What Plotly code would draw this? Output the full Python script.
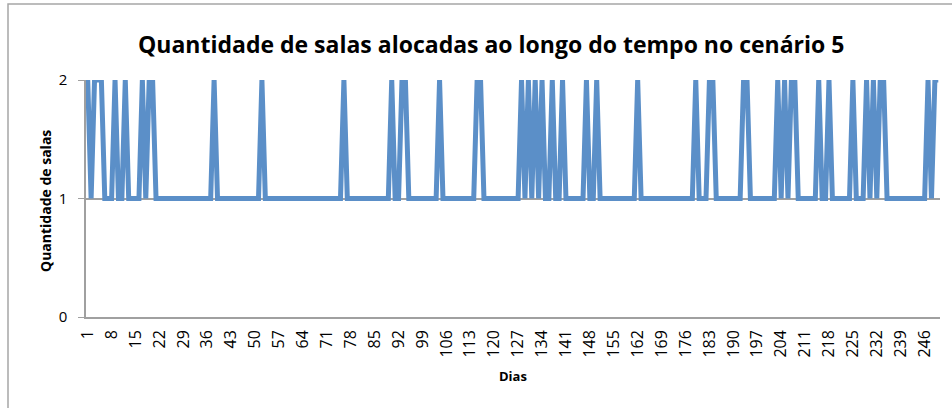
import plotly.graph_objects as go

# Days 1..250 and allocated rooms per day
dias = list(range(1, 251))
salas = [
    2,1,2,2,2,1,1,1,2,1,1,2,1,1,1,1,2,1,2,2,1,1,1,1,1,   # 1-25
    1,1,1,1,1,1,1,1,1,1,1,1,2,1,1,1,1,1,1,1,1,1,1,1,1,   # 26-50
    1,2,1,1,1,1,1,1,1,1,1,1,1,1,1,1,1,1,1,1,1,1,1,1,1,   # 51-75
    2,1,1,1,1,1,1,1,1,1,1,1,1,1,2,1,1,2,2,1,1,1,1,1,1,   # 76-100
    1,1,1,2,1,1,1,1,1,1,1,1,1,1,2,2,1,1,1,1,1,1,1,1,1,   # 101-125
    1,1,2,1,2,1,2,1,2,1,1,2,1,1,2,1,1,1,1,1,1,2,1,1,2,   # 126-150
    1,1,1,1,1,1,1,1,1,1,1,2,1,1,1,1,1,1,1,1,1,1,1,1,1,   # 151-175
    1,1,1,2,1,1,1,2,2,1,1,1,1,1,1,1,1,2,2,1,1,1,1,1,1,   # 176-200
    1,1,2,1,2,1,2,2,1,1,1,1,1,1,2,1,1,2,1,1,1,1,1,1,2,   # 201-225
    1,1,1,2,1,2,1,2,2,1,1,1,1,1,1,1,1,1,1,1,1,2,1,2,2,   # 226-250
]
x_ticks = list(range(1, 251, 7))
y_ticks = [0, 1, 2]

titulo = "Quantidade de salas alocadas ao longo do tempo no cenário 5"
titulo_y = "Quantidade de salas"
titulo_x = "Dias"

FONT = "Open Sans"

fig = go.Figure()
fig.add_trace(go.Scatter(
    x=dias, y=salas, mode="lines",
    line=dict(color="#5b8fc8", width=5),
    hoverinfo="skip", showlegend=False,
))

L, R, T, B = 86, 940, 80, 317
W, H = R - L, B - T

def px(xp):
    return (xp - L) / W

def py(yp):
    return (B - yp) / H

fig.update_layout(
    width=952, height=408,
    margin=dict(l=L, r=952 - R, t=T, b=408 - B),
    paper_bgcolor="white", plot_bgcolor="white",
    font=dict(family=FONT, color="#000000"),
    showlegend=False,
    xaxis=dict(
        range=[0.5, 250.5], tickmode="array", tickvals=x_ticks,
        ticktext=[str(v) for v in x_ticks], tickangle=-90,
        tickfont=dict(size=16, family=FONT), ticks="outside", ticklen=5,
        tickcolor="rgba(0,0,0,0)", showgrid=False, zeroline=False,
        showline=True, linecolor="#a0a0a0", linewidth=1.5,
    ),
    yaxis=dict(
        range=[0, 2], tickmode="array", tickvals=y_ticks,
        tickfont=dict(size=15, family=FONT), ticks="outside", ticklen=6,
        ticklabelstandoff=8,
        tickcolor="#a0a0a0", showgrid=True, gridcolor="#a0a0a0", gridwidth=1.5,
        zeroline=False, showline=True, linecolor="#a0a0a0", linewidth=1.5,
    ),
    shapes=[dict(type="rect", xref="paper", yref="paper",
                 x0=px(8), x1=px(962), y0=py(418), y1=py(4),
                 line=dict(color="#a6a6a6", width=1.5), layer="below")],
    annotations=[
        dict(text="<b>" + titulo + "</b>", xref="paper", yref="paper",
             x=px(491), y=py(44), xanchor="center", yanchor="middle",
             showarrow=False, font=dict(size=23, family=FONT)),
        dict(text="<b>" + titulo_y + "</b>", xref="paper", yref="paper",
             x=px(45), y=py(201), xanchor="center", yanchor="middle",
             textangle=-90, showarrow=False, font=dict(size=14, family=FONT)),
        dict(text="<b>" + titulo_x + "</b>", xref="paper", yref="paper",
             x=px(513), y=py(376), xanchor="center", yanchor="middle",
             showarrow=False, font=dict(size=13, family=FONT)),
    ],
)

fig.write_html("out.html", config={"displayModeBar": False},
               post_script="document.body.style.margin='0';")
